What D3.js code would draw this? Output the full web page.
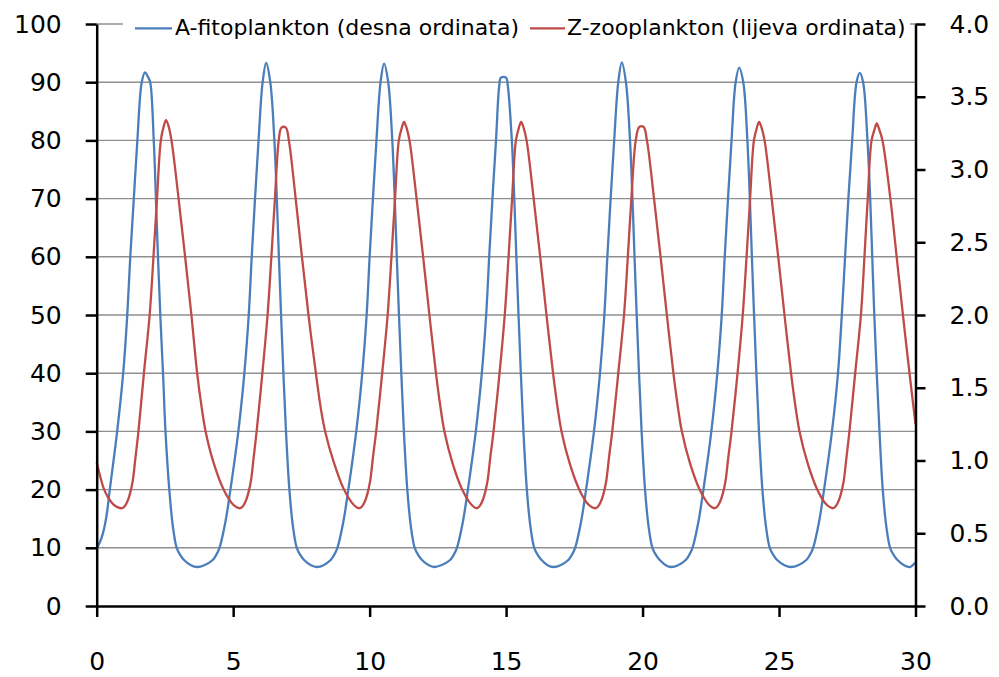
<!DOCTYPE html>
<html><head><meta charset="utf-8">
<script src="https://cdn.jsdelivr.net/npm/d3@7"></script>
<style>
body{margin:0;background:#fff}
svg{display:block}
text{font-family:"DejaVu Sans",sans-serif;fill:#000}
</style>
</head><body>
<svg id="chart" width="999" height="677"></svg>
<script>
// ---- data ----
// A-fitoplankton, right ordinate (0..4): time and value
const tA = [
0,0.12,0.24,0.36,0.48,0.75,0.97,1.12,1.23,1.36,1.49,1.65,1.77,1.88,1.96,2.09,2.17,2.245,2.33,2.43,2.52,2.66,2.79,2.93,3.07,3.20,3.45,3.69,
3.94,4.25,4.37,4.50,4.71,4.90,5.19,5.41,5.57,5.68,5.80,5.93,6.08,6.21,6.36,6.51,6.60,6.675,6.755,6.84,6.935,7.06,7.19,7.33,7.47,7.60,7.85,8.06,
8.31,8.57,8.69,8.82,9.03,9.22,9.51,9.73,9.89,10.00,10.12,10.25,10.40,10.53,10.68,10.83,10.92,10.995,11.075,11.16,11.255,11.38,11.51,11.65,11.79,11.92,12.17,12.37,
12.62,12.95,13.07,13.20,13.41,13.60,13.89,14.11,14.27,14.38,14.50,14.63,14.75,14.81,15.00,15.06,15.21,15.30,15.375,15.455,15.54,15.635,15.76,15.89,16.03,16.17,16.30,16.52,16.74,
16.99,17.28,17.40,17.53,17.74,17.93,18.22,18.44,18.60,18.71,18.83,18.96,19.11,19.24,19.39,19.54,19.63,19.705,19.785,19.87,19.965,20.09,20.22,20.36,20.50,20.63,20.85,21.05,
21.30,21.58,21.70,21.83,22.04,22.23,22.52,22.74,22.90,23.01,23.13,23.26,23.41,23.54,23.69,23.84,23.93,24.005,24.085,24.17,24.265,24.39,24.52,24.66,24.80,24.93,25.20,25.45,
25.70,26.00,26.12,26.25,26.46,26.65,26.94,27.16,27.30,27.42,27.54,27.68,27.84,27.96,28.08,28.24,28.34,28.415,28.49,28.58,28.68,28.80,28.93,29.07,29.21,29.34,29.58,29.80,30.00];
const fitoA = [
0.396,0.44,0.508,0.62,0.80,1.20,1.60,2.00,2.40,2.80,3.20,3.60,3.668,3.636,3.60,3.20,2.80,2.40,2.00,1.60,1.20,0.80,0.548,0.40,0.348,0.316,0.28,0.268,
0.28,0.316,0.348,0.40,0.572,0.80,1.20,1.60,2.00,2.40,2.80,3.20,3.60,3.732,3.60,3.20,2.80,2.40,2.00,1.60,1.20,0.80,0.548,0.40,0.348,0.316,0.28,0.268,
0.28,0.316,0.348,0.40,0.572,0.80,1.20,1.60,2.00,2.40,2.80,3.20,3.60,3.728,3.60,3.20,2.80,2.40,2.00,1.60,1.20,0.80,0.548,0.40,0.348,0.316,0.28,0.268,
0.28,0.316,0.348,0.40,0.572,0.80,1.20,1.60,2.00,2.40,2.80,3.20,3.58,3.632,3.632,3.58,3.20,2.80,2.40,2.00,1.60,1.20,0.80,0.548,0.40,0.348,0.316,0.28,0.268,
0.28,0.316,0.348,0.40,0.572,0.80,1.20,1.60,2.00,2.40,2.80,3.20,3.60,3.736,3.60,3.20,2.80,2.40,2.00,1.60,1.20,0.80,0.548,0.40,0.348,0.316,0.28,0.268,
0.28,0.316,0.348,0.40,0.572,0.80,1.20,1.60,2.00,2.40,2.80,3.20,3.60,3.700,3.60,3.20,2.80,2.40,2.00,1.60,1.20,0.80,0.548,0.40,0.348,0.316,0.28,0.268,
0.28,0.316,0.348,0.40,0.572,0.80,1.20,1.60,2.00,2.40,2.80,3.20,3.60,3.664,3.60,3.20,2.80,2.40,2.00,1.60,1.20,0.80,0.548,0.40,0.348,0.316,0.28,0.268,0.30];

// Z-zooplankton, left ordinate (0..100): time and value
const tZ = [
0,0.12,0.25,0.40,0.60,0.78,0.92,1.02,1.12,1.22,1.32,1.42,1.53,1.73,1.94,2.08,2.21,2.35,2.46,2.54,2.63,2.74,3.00,3.24,3.47,3.68,3.85,3.99,4.29,4.65,4.93,5.13,5.25,
5.35,5.45,5.55,5.65,5.75,5.86,6.07,6.26,6.40,6.53,6.67,6.77,6.93,7.04,7.29,7.52,7.76,8.03,8.21,8.37,8.70,9.06,9.34,9.52,9.62,
9.72,9.82,9.92,10.02,10.12,10.24,10.46,10.66,10.80,10.93,11.07,11.18,11.26,11.35,11.46,11.72,11.96,12.19,12.43,12.60,12.74,13.04,13.39,13.66,13.84,13.92,
14.02,14.12,14.22,14.32,14.42,14.54,14.76,14.95,15.09,15.22,15.36,15.47,15.55,15.64,15.75,16.01,16.25,16.48,16.72,16.89,17.03,17.33,17.68,17.95,18.15,18.27,
18.37,18.47,18.57,18.67,18.77,18.89,19.11,19.32,19.46,19.59,19.75,19.88,20.04,20.16,20.42,20.66,20.89,21.13,21.30,21.44,21.74,22.09,22.36,22.54,22.64,
22.74,22.84,22.94,23.04,23.14,23.26,23.48,23.67,23.81,23.94,24.08,24.19,24.27,24.36,24.47,24.73,24.97,25.20,25.44,25.61,25.75,26.05,26.40,26.67,26.87,26.97,
27.07,27.17,27.27,27.37,27.47,27.58,27.79,28.00,28.13,28.25,28.39,28.50,28.58,28.67,28.79,29.08,29.31,29.54,29.78,30.00];
const zooZ = [
24.7,22.4,20.3,18.8,17.5,16.95,16.8,17.1,17.9,19.3,21.5,25.5,30,40,50,60,70,80,82.5,83.5,82.5,80,70,60,50,40,34,30,24.5,20,17.8,16.95,16.8,
17.1,17.9,19.3,21.5,25.5,30,40,50,60,70,80,82.2,82.2,80,70,60,50,40,34,30,24.5,20,17.8,16.95,16.8,
17.1,17.9,19.3,21.5,25.5,30,40,50,60,70,80,82.2,83.2,82.2,80,70,60,50,40,34,30,24.5,20,17.8,16.95,16.8,
17.1,17.9,19.3,21.5,25.5,30,40,50,60,70,80,82.2,83.2,82.2,80,70,60,50,40,34,30,24.5,20,17.8,16.95,16.8,
17.1,17.9,19.3,21.5,25.5,30,40,50,60,70,80,82.3,82.3,80,70,60,50,40,34,30,24.5,20,17.8,16.95,16.8,
17.1,17.9,19.3,21.5,25.5,30,40,50,60,70,80,82.2,83.2,82.2,80,70,60,50,40,34,30,24.5,20,17.8,16.95,16.8,
17.1,17.9,19.3,21.5,25.5,30,40,50,60,70,80,81.9,82.9,81.9,80,70,60,50,40,31.3];

const xTicks = [0,5,10,15,20,25,30];
const leftTicks = [0,10,20,30,40,50,60,70,80,90,100];
const rightTicks = [0,0.5,1,1.5,2,2.5,3,3.5,4];
const seriesNames = ["A-fitoplankton (desna ordinata)", "Z-zooplankton (lijeva ordinata)"];
const seriesColors = ["#4A7EBB", "#BE4B48"];

if (tA.length !== fitoA.length || tZ.length !== zooZ.length) console.error("length mismatch", tA.length, fitoA.length, tZ.length, zooZ.length);

// ---- layout ----
const L = 96.7, R = 915.5, T = 24, B = 606;
const svg = d3.select("#chart");
const x = d3.scaleLinear().domain([0, 30]).range([L, R]);
const yL = d3.scaleLinear().domain([0, 100]).range([B, T]);
const yR = d3.scaleLinear().domain([0, 4]).range([B, T]);

// gridlines
svg.append("g").selectAll("line").data(leftTicks.filter(d => d > 0)).join("line")
  .attr("x1", L).attr("x2", R).attr("y1", d => yL(d)).attr("y2", d => yL(d))
  .attr("stroke", "#8f8f8f").attr("stroke-width", 1.4);

// series
const curve = d3.curveCatmullRom.alpha(0.5);
const lineA = d3.line().x(d => x(d[0])).y(d => yR(d[1])).curve(curve);
const lineZ = d3.line().x(d => x(d[0])).y(d => yL(d[1])).curve(curve);
svg.append("path").datum(tA.map((t, i) => [t, fitoA[i]]))
  .attr("d", lineA).attr("fill", "none").attr("stroke", seriesColors[0]).attr("stroke-width", 2.3)
  .attr("stroke-linejoin", "round");
svg.append("path").datum(tZ.map((t, i) => [t, zooZ[i]]))
  .attr("d", lineZ).attr("fill", "none").attr("stroke", seriesColors[1]).attr("stroke-width", 2.3)
  .attr("stroke-linejoin", "round");

// axes
function styleAxis(g) {
  g.select(".domain").attr("stroke", "#000").attr("stroke-width", 2.5);
  g.selectAll(".tick line").attr("stroke", "#000").attr("stroke-width", 2.5);
  g.selectAll(".tick text").attr("font-size", 25).attr("font-family", "DejaVu Sans").attr("fill", "#000");
}
const gL = svg.append("g").attr("transform", `translate(${L},0)`)
  .call(d3.axisLeft(yL).tickValues(leftTicks).tickFormat(d3.format("d")).tickSize(11).tickSizeOuter(0).tickPadding(24));
styleAxis(gL);
const gR = svg.append("g").attr("transform", `translate(${R},0)`)
  .call(d3.axisRight(yR).tickValues(rightTicks).tickFormat(d3.format(".1f")).tickSize(10).tickSizeOuter(0).tickPadding(24));
styleAxis(gR);
const gB = svg.append("g").attr("transform", `translate(0,${B})`)
  .call(d3.axisBottom(x).tickValues(xTicks).tickFormat(d3.format("d")).tickSize(11).tickSizeOuter(0));
styleAxis(gB);
gB.selectAll(".tick text").attr("y", 64).attr("dy", 0);

// legend
const lg = svg.append("g");
lg.append("rect").attr("x", 123).attr("y", 12).attr("width", 787).attr("height", 33).attr("fill", "#fff");
const legendItems = [
  {name: seriesNames[0], color: seriesColors[0], x0: 135, x1: 172, tx: 175},
  {name: seriesNames[1], color: seriesColors[1], x0: 530, x1: 565, tx: 567}
];
legendItems.forEach(it => {
  lg.append("line").attr("x1", it.x0).attr("x2", it.x1).attr("y1", 28.3).attr("y2", 28.3)
    .attr("stroke", it.color).attr("stroke-width", 2.3);
  lg.append("text").attr("x", it.tx).attr("y", 35).attr("font-size", 22).text(it.name);
});
</script>
</body></html>
